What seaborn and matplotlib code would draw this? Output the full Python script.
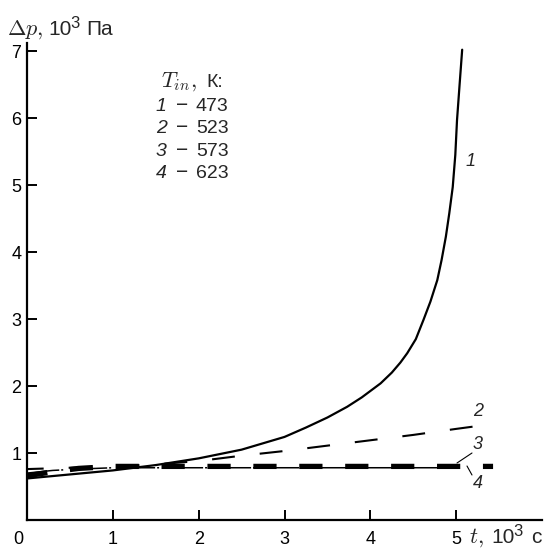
import matplotlib
matplotlib.use("Agg")
import matplotlib.pyplot as plt
import matplotlib.transforms as mtransforms
import seaborn as sns
import pandas as pd

# courbes Delta p (10^3 Pa) en fonction de t (10^3 s)
t1 = [0, 0.5, 1, 1.5, 2, 2.5, 3, 3.25, 3.5, 3.73, 3.9, 4.12, 4.25, 4.35, 4.43,
      4.53, 4.62, 4.7, 4.78, 4.83, 4.88, 4.92, 4.96, 4.99, 5.01, 5.04, 5.07]
p1 = [0.62, 0.68, 0.74, 0.82, 0.92, 1.05, 1.24, 1.38, 1.53, 1.69, 1.83, 2.04,
      2.2, 2.35, 2.49, 2.7, 2.99, 3.26, 3.58, 3.88, 4.23, 4.58, 4.97, 5.45,
      5.97, 6.5, 7.02]

t2 = [0, 0.5, 1, 1.5, 2, 2.5, 3, 3.5, 4, 4.5, 5, 5.35]
p2 = [0.76, 0.78, 0.80, 0.83, 0.88, 0.96, 1.03, 1.11, 1.19, 1.27, 1.36, 1.42]

t3 = [0, 0.3, 0.6, 1, 1.5, 2, 3, 4, 5.0]
p3 = [0.70, 0.74, 0.76, 0.78, 0.78, 0.78, 0.78, 0.78, 0.78]

t4 = [0, 0.3, 0.6, 1, 1.5, 2, 3, 4, 5, 5.43]
p4 = [0.66, 0.72, 0.77, 0.80, 0.80, 0.80, 0.80, 0.80, 0.80, 0.80]

temperatures = ["473", "523", "573", "623"]
x_ticks = [0, 1, 2, 3, 4, 5]
y_ticks = [1, 2, 3, 4, 5, 6, 7]

W, H = 545, 548

sns.set_style("ticks")
plt.rcParams['font.family'] = ['Liberation Sans', 'DejaVu Sans']
plt.rcParams['mathtext.fontset'] = 'cm'

fig = plt.figure(figsize=(W / 100, H / 100), dpi=100)
ax = fig.add_axes([27 / W, (H - 520) / H, 515 / W, 477 / H])


def px(x, y):
    return x / W, 1 - y / H


df1 = pd.DataFrame({'t': t1, 'p': p1})
df2 = pd.DataFrame({'t': t2, 'p': p2})
df3 = pd.DataFrame({'t': t3, 'p': p3})
df4 = pd.DataFrame({'t': t4, 'p': p4})

sns.lineplot(data=df4, x='t', y='p', ax=ax, color='black', lw=3.8,
             linestyle=(0.5, (4.4, 4.3)), sort=False)
sns.lineplot(data=df3, x='t', y='p', ax=ax, color='black', lw=1.1,
             linestyle=(1.7, (22.9, 1.3, 1.3, 5.9)), sort=False)
sns.lineplot(data=df2, x='t', y='p', ax=ax, color='black', lw=1.5,
             linestyle=(3, (11, 12)), sort=False)
sns.lineplot(data=df1, x='t', y='p', ax=ax, color='black', lw=1.6, sort=False)

ax.set_xlim(0, 6.0)
ax.set_ylim(0, 7.12)
ax.set_xticks(x_ticks)
ax.set_yticks(y_ticks)
ax.set_xticklabels([str(v) for v in x_ticks])
ax.set_yticklabels([str(v) for v in y_ticks])
ax.set_xlabel('')
ax.set_ylabel('')

for s in ['top', 'right']:
    ax.spines[s].set_visible(False)
for s in ['left', 'bottom']:
    ax.spines[s].set_linewidth(1.6)
    ax.spines[s].set_color('black')

ax.tick_params(axis='both', direction='in', length=7, width=1.4,
               colors='black', labelsize=13)
ax.tick_params(axis='x', pad=8)
ax.tick_params(axis='y', pad=4)

# decaler le "0" vers la gauche
lab0 = ax.get_xticklabels()[0]
lab0.set_transform(lab0.get_transform() +
                   mtransforms.ScaledTranslation(-9 / 100, 0, fig.dpi_scale_trans))

# titre axe y : "Δp, 10³ Па"
fig.text(*px(7, 35), r'$\Delta p,$', fontsize=16, ha='left', va='baseline')
fig.text(*px(48, 35), '10', fontsize=15, ha='left', va='baseline')
fig.text(*px(70, 28), '3', fontsize=12, ha='left', va='baseline')
fig.text(*px(86, 35), 'Па', fontsize=15, ha='left', va='baseline')

# titre axe x : "t, 10³ с"
fig.text(*px(469, 543), r'$t,$', fontsize=16, ha='left', va='baseline')
fig.text(*px(491, 543), '10', fontsize=15, ha='left', va='baseline')
fig.text(*px(513, 536), '3', fontsize=12, ha='left', va='baseline')
fig.text(*px(531, 543), 'с', fontsize=15, ha='left', va='baseline')

# legende
fig.text(*px(161, 87), r'$T_{in},$', fontsize=16, ha='left', va='baseline')
fig.text(*px(206, 87), 'К:', fontsize=14, ha='left', va='baseline')
for i, temp in enumerate(temperatures):
    yb = 111 + i * 22.3
    fig.text(*px(156, yb), str(i + 1), fontsize=14, style='italic',
             ha='left', va='baseline')
    fig.text(*px(176, yb), '\u2212', fontsize=15, ha='left', va='baseline')
    fig.text(*px(196, yb), temp, fontsize=14, ha='left', va='baseline')

# numeros des courbes
fig.text(*px(466, 166), '1', fontsize=13, style='italic', ha='left', va='baseline')
fig.text(*px(473, 416), '2', fontsize=13, style='italic', ha='left', va='baseline')
fig.text(*px(473, 449), '3', fontsize=13, style='italic', ha='left', va='baseline')
fig.text(*px(473, 488), '4', fontsize=13, style='italic', ha='left', va='baseline')

# traits de rappel
fig.add_artist(plt.Line2D([457 / W, 472 / W], [1 - 463 / H, 1 - 453 / H],
                          color='black', lw=0.8))
fig.add_artist(plt.Line2D([467 / W, 472 / W], [1 - 466 / H, 1 - 475 / H],
                          color='black', lw=0.8))

fig.savefig('out.png', dpi=100, facecolor='white')
